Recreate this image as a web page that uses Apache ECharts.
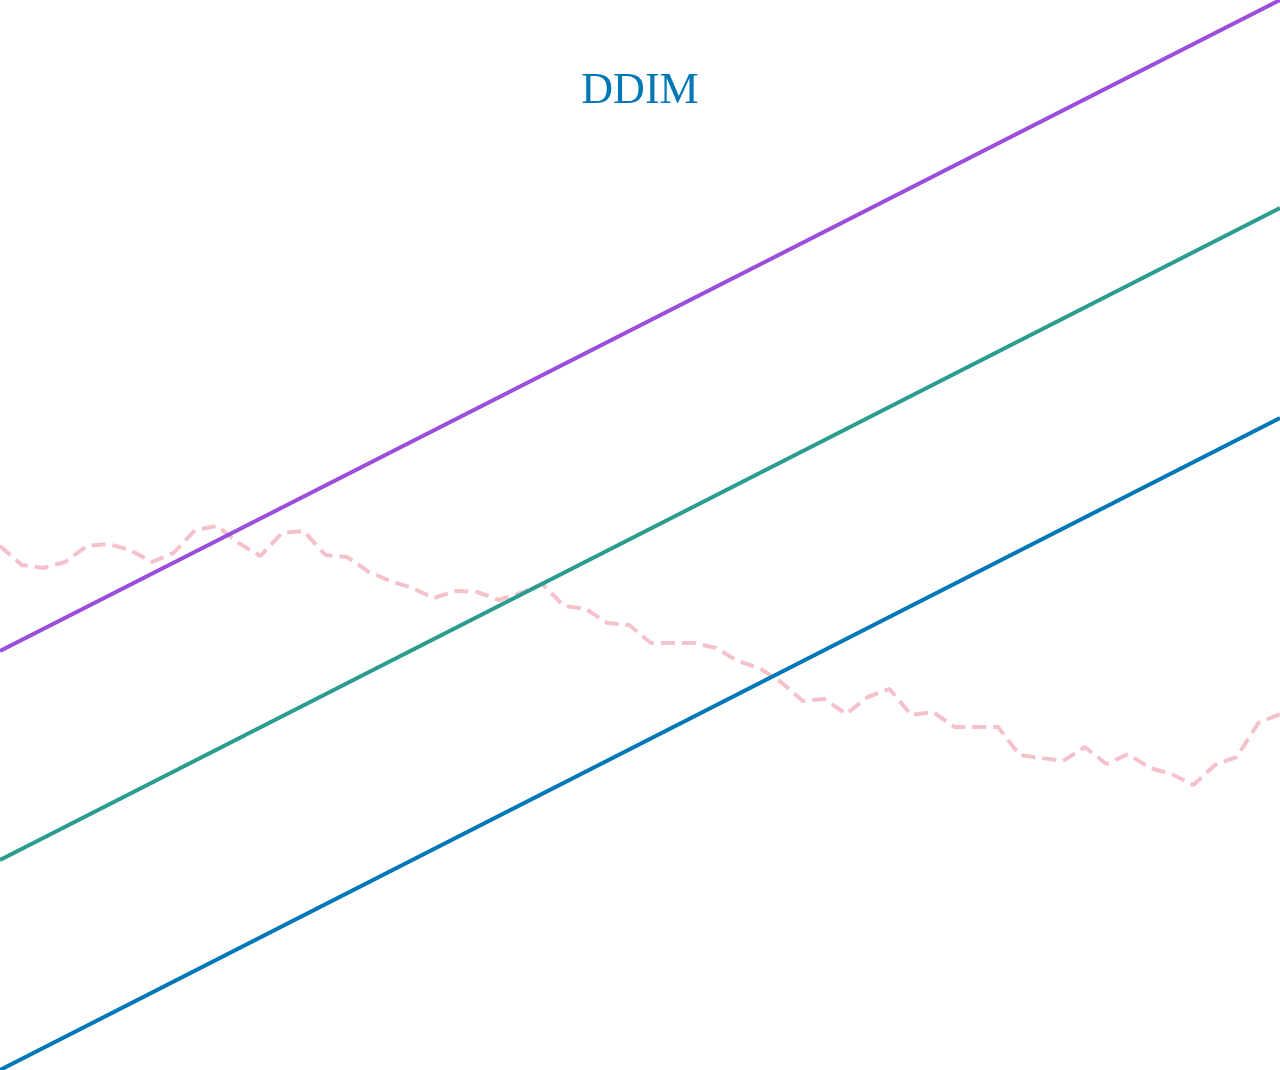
<!DOCTYPE html>
<html>
<head>
<meta charset="utf-8">
<script src="https://cdn.jsdelivr.net/npm/echarts@6/dist/echarts.min.js"></script>
<style>
  html, body { margin: 0; padding: 0; background: #ffffff; }
  #chart { width: 1280px; height: 1070px; }
</style>
</head>
<body>
<div id="chart"></div>
<script>
// Chart title
const titleText = 'DDIM';

// x positions (60 evenly spaced steps)
const categories = Array.from({ length: 60 }, (_, i) => String(i));

// Pink dashed series (units on a 0–1070 scale)
const pinkValues = [
  524, 505, 502, 508, 524, 526, 520, 508, 517, 540,
  544, 527, 514, 537, 539, 515, 513, 498, 489, 482,
  472, 479, 478, 470, 477, 486, 464, 461, 447, 445,
  427, 427, 427, 422, 409, 402, 388, 369, 371, 356,
  373, 381, 355, 358, 343, 343, 343, 315, 312, 309,
  323, 306, 316, 302, 296, 285, 305, 313, 347, 356
];

// Straight lines: start and end values
const purpleEnds = [419, 1070];
const greenEnds = [210, 862];
const blueEnds = [0, 652];

function endsOnly(ends) {
  const arr = categories.map(() => null);
  arr[0] = ends[0];
  arr[arr.length - 1] = ends[1];
  return arr;
}

const chart = echarts.init(document.getElementById('chart'), null, { renderer: 'canvas' });
chart.setOption({
  animation: false,
  backgroundColor: '#ffffff',
  title: {
    text: titleText,
    left: 'center',
    top: 64,
    textStyle: {
      fontFamily: 'Liberation Serif, DejaVu Serif, serif',
      fontSize: 44,
      fontWeight: 'normal',
      color: '#0077b6'
    }
  },
  grid: { left: 0, right: 0, top: 0, bottom: 0 },
  xAxis: {
    type: 'category',
    data: categories,
    boundaryGap: false,
    show: false
  },
  yAxis: {
    type: 'value',
    min: 0,
    max: 1070,
    show: false
  },
  series: [
    {
      type: 'line',
      data: pinkValues,
      showSymbol: false,
      clip: false,
      lineStyle: { color: '#f5c1cb', width: 4, type: [14, 7] },
      z: 1
    },
    {
      type: 'line',
      data: endsOnly(purpleEnds),
      connectNulls: true,
      showSymbol: false,
      clip: false,
      lineStyle: { color: '#9b4ddb', width: 4 },
      z: 2
    },
    {
      type: 'line',
      data: endsOnly(greenEnds),
      connectNulls: true,
      showSymbol: false,
      clip: false,
      lineStyle: { color: '#2a9d8f', width: 4 },
      z: 2
    },
    {
      type: 'line',
      data: endsOnly(blueEnds),
      connectNulls: true,
      showSymbol: false,
      clip: false,
      lineStyle: { color: '#0077b6', width: 4 },
      z: 2
    }
  ]
});
</script>
</body>
</html>
